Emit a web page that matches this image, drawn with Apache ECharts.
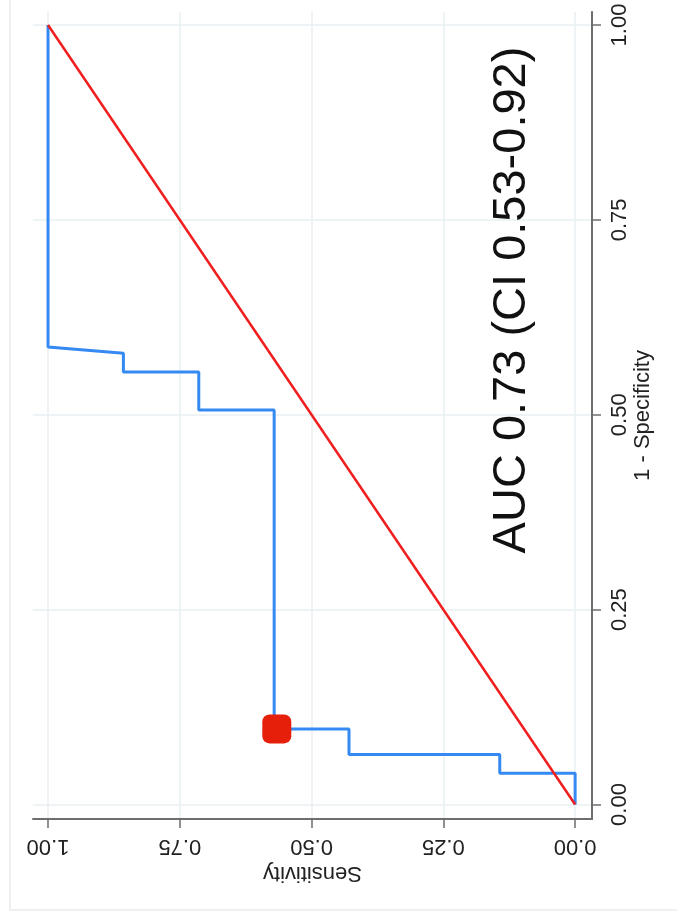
<!DOCTYPE html>
<html>
<head>
<meta charset="utf-8">
<script src="https://cdn.jsdelivr.net/npm/echarts@6/dist/echarts.min.js"></script>
<style>
html,body{margin:0;padding:0;background:#fff;}
#chart{width:677px;height:915px;}
</style>
</head>
<body>
<div id="chart"></div>
<script>
// ROC curve (picture is rotated: Sensitivity runs along the bottom, 1 - Specificity up the right side)
const rocFpr  = [0, 0.040, 0.040, 0.064, 0.064, 0.097, 0.097, 0.506, 0.506, 0.555, 0.555, 0.579, 0.587, 1];
const rocSens = [0, 0,     0.143, 0.143, 0.429, 0.429, 0.571, 0.571, 0.714, 0.714, 0.857, 0.857, 1,     1];
const refFpr  = [0, 1];
const refSens = [0, 1];
const cutFpr  = [0.097];
const cutSens = [0.566];
const tickValues = [0, 0.25, 0.5, 0.75, 1];
const aucText = 'AUC 0.73 (CI 0.53-0.92)';
const xName = 'Sensitivity';
const yName = '1 - Specificity';

const FONT = '"Liberation Sans", Arial, Helvetica, sans-serif';
const pairs = (s, f) => s.map((v, i) => [v, f[i]]);

const chart = echarts.init(document.getElementById('chart'), null, {renderer: 'canvas'});
const option = {
  animation: false,
  backgroundColor: '#ffffff',
  grid: {left: 33, right: 85, top: 12, bottom: 96, containLabel: false},
  xAxis: {
    type: 'value', position: 'bottom', inverse: true,
    min: -0.032, max: 1.0285,
    name: xName, nameLocation: 'middle', nameRotate: 180, nameGap: 39,
    nameTextStyle: {fontFamily: FONT, fontSize: 22, color: '#222'},
    axisLine: {show: true, onZero: false, lineStyle: {color: '#6e6e6e', width: 2}},
    axisTick: {show: true, length: 9, customValues: tickValues, lineStyle: {color: '#6e6e6e', width: 1.5}},
    axisLabel: {rotate: 180, margin: 16, customValues: tickValues, fontFamily: FONT, fontSize: 22, color: '#222',
      formatter: v => Number(v).toFixed(2)},
    splitLine: {show: true, lineStyle: {color: '#e8f0f2', width: 1.5}}
  },
  yAxis: {
    type: 'value', position: 'right',
    min: -0.0186, max: 1.0167,
    name: yName, nameLocation: 'middle', nameRotate: 90, nameGap: 40, nameMoveOverlap: false,
    nameTextStyle: {fontFamily: FONT, fontSize: 22, color: '#222'},
    axisLine: {show: true, onZero: false, lineStyle: {color: '#6e6e6e', width: 2}},
    axisTick: {show: true, length: 9, customValues: tickValues, lineStyle: {color: '#6e6e6e', width: 1.5}},
    axisLabel: {rotate: 90, margin: 17, customValues: tickValues, fontFamily: FONT, fontSize: 22, color: '#222',
      formatter: v => Number(v).toFixed(2)},
    splitLine: {show: true, lineStyle: {color: '#e8f0f2', width: 1.5}}
  },
  series: [
    {
      type: 'line', data: pairs(rocSens, rocFpr), showSymbol: false, smooth: false,
      lineStyle: {color: '#3589f2', width: 3}, z: 3
    },
    {
      type: 'line', data: pairs(refSens, refFpr), showSymbol: false,
      lineStyle: {color: '#f01e1e', width: 2.5}, z: 4
    },
    {
      type: 'scatter', data: pairs(cutSens, cutFpr), symbol: 'roundRect', symbolSize: 29,
      itemStyle: {color: '#e61f0b', opacity: 1}, z: 5
    }
  ],
  graphic: [
    {
      type: 'rect', shape: {x: 10, y: -20, width: 720, height: 930},
      style: {fill: 'none', stroke: '#ebebeb', lineWidth: 1.5}, z: -1, silent: true
    },
    {
      type: 'text', x: 512, y: 300, rotation: Math.PI / 2,
      style: {text: aucText, fontFamily: FONT, fontSize: 47, fill: '#111', align: 'center', verticalAlign: 'middle'},
      z: 10
    }
  ]
};
chart.setOption(option);
</script>
</body>
</html>
